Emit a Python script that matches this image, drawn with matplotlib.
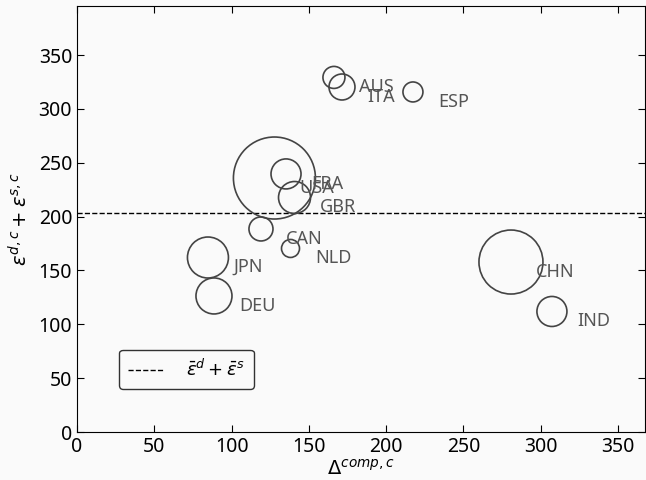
import matplotlib.pyplot as plt

countries = ["AUS", "ITA", "ESP", "USA", "FRA", "GBR", "CAN", "NLD", "JPN", "DEU", "CHN", "IND"]
delta_comp = [166.2, 171.4, 217.3, 127.7, 135.2, 140.7, 119.0, 138.1, 84.7, 88.6, 280.7, 307.2]
eps_sum = [329.2, 320.3, 315.7, 235.8, 239.6, 217.7, 188.5, 170.4, 162.0, 126.3, 157.8, 111.9]
bubble = [251, 350, 207, 3486, 467, 531, 299, 168, 871, 672, 2123, 467]
eps_mean = 203.3

plt.rcParams["font.family"] = ["Noto Sans", "DejaVu Sans"]
bg = "#fafafa"

fig = plt.figure(figsize=(6.46, 4.8), dpi=100, facecolor=bg)
ax = fig.add_axes([77 / 646, 48 / 480, 568 / 646, 426 / 480], facecolor=bg)

ax.scatter(delta_comp, eps_sum, s=bubble, facecolors="none",
           edgecolors="#444444", linewidths=1.2, zorder=3)
for name, x, y in zip(countries, delta_comp, eps_sum):
    ax.annotate(name, (x, y), xytext=(18, -7), textcoords="offset points",
                va="center", ha="left", fontsize=13, color="#555555")

ax.axhline(eps_mean, color="black", linestyle="--", linewidth=1.0,
           label=r"$\bar{\varepsilon}^d + \bar{\varepsilon}^s$")

ax.set_xlim(0, 367.4)
ax.set_ylim(0, 395.5)
ax.set_xticks(range(0, 351, 50))
ax.set_yticks(range(0, 351, 50))
ax.tick_params(direction="in", top=True, right=True, labelsize=14, length=5)
ax.set_xlabel(r"$\Delta^{comp,c}$", fontsize=14, labelpad=2)
ax.set_ylabel(r"$\varepsilon^{d,c} + \varepsilon^{s,c}$", fontsize=14, labelpad=4)

leg = ax.legend(loc="lower left", bbox_to_anchor=(0.058, 0.08), fontsize=13,
                frameon=True, fancybox=True, edgecolor="black", facecolor=bg,
                handlelength=2.0, handletextpad=1.2, borderpad=0.5)
leg.get_frame().set_linewidth(1.0)

fig.savefig("out.png", dpi=100, facecolor=bg)
